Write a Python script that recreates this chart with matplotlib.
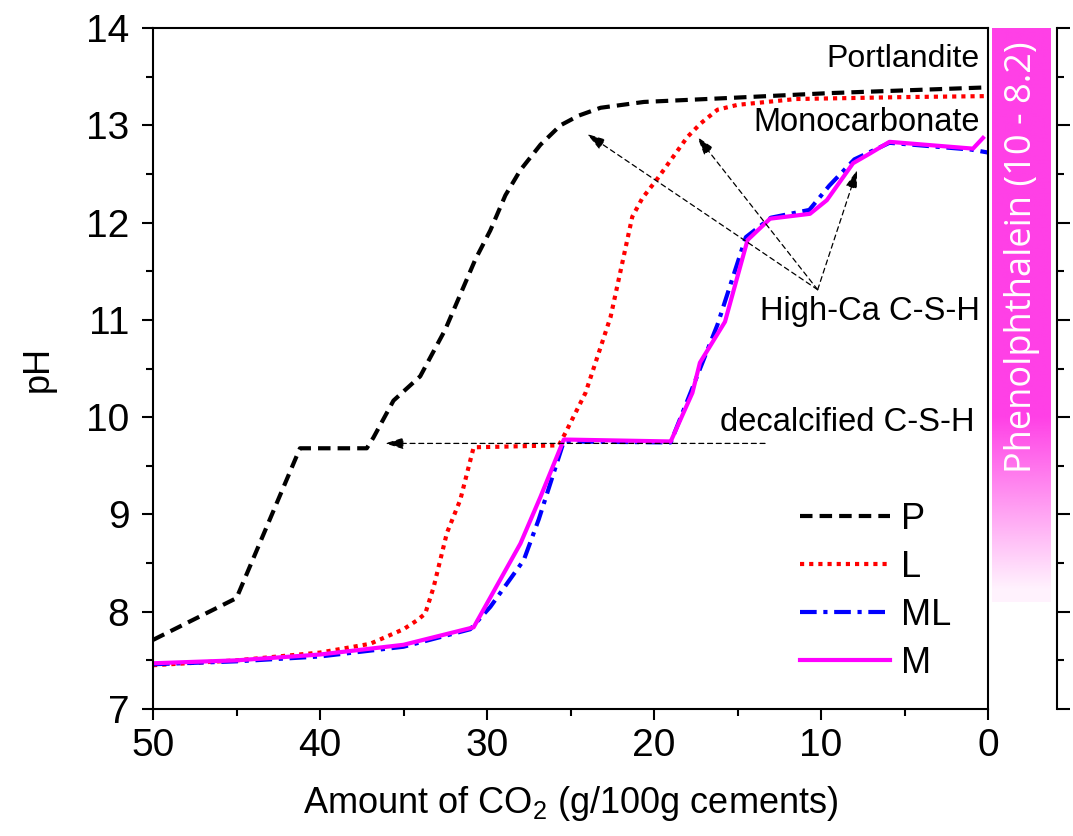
import numpy as np
import matplotlib
matplotlib.use("Agg")
import matplotlib.pyplot as plt
from matplotlib.ticker import MultipleLocator, NullFormatter
from matplotlib.colors import to_rgb

plt.rcParams["font.family"] = ["Liberation Sans", "DejaVu Sans"]
plt.rcParams["mathtext.fontset"] = "custom"
plt.rcParams["mathtext.rm"] = "Liberation Sans"

# pH of the pore solution vs. amount of CO2 bound (g / 100 g cement)
p_co2 = [50, 45, 41.2, 37.2, 36.8, 35.6, 34, 32.5, 30.7, 29.8, 28.9, 28, 26.8,
         25.6, 24.5, 23.2, 20.6, 15.6, 9.6, 0]
p_ph = [7.71, 8.14, 9.68, 9.68, 9.79, 10.17, 10.42, 10.9, 11.62, 11.92, 12.28,
        12.54, 12.8, 13.0, 13.1, 13.18, 13.24, 13.28, 13.33, 13.39]

l_co2 = [50, 45, 40, 37, 35, 34.2, 33.7, 33.2, 32.4, 31.6, 30.8, 25.7, 25.3,
         24.1, 22.6, 21.3, 20.7, 19.8, 18.0, 17.2, 16.2, 15.0, 11.5, 5, 0]
l_ph = [7.45, 7.50, 7.58, 7.67, 7.82, 7.91, 7.98, 8.25, 8.81, 9.15, 9.69, 9.71,
        9.84, 10.25, 11.03, 12.06, 12.25, 12.45, 12.88, 13.02, 13.16, 13.21,
        13.27, 13.29, 13.30]

ml_co2 = [50, 45, 40, 35, 31, 29.8, 27.8, 26.9, 25.4, 19, 17.7, 16.2, 14.5,
          13.0, 10.7, 9.5, 8.0, 5.9, 1, 0]
ml_ph = [7.46, 7.49, 7.54, 7.64, 7.82, 8.05, 8.53, 8.95, 9.75, 9.74, 10.3,
         10.95, 11.85, 12.05, 12.13, 12.38, 12.65, 12.82, 12.75, 12.72]

m_co2 = [50, 45, 40, 35, 30.8, 28.0, 26.8, 25.4, 19.0, 17.7, 17.25, 15.75,
         14.4, 13.05, 10.66, 9.65, 8.08, 7.07, 5.9, 0.9, 0.3]
m_ph = [7.47, 7.50, 7.56, 7.66, 7.84, 8.70, 9.18, 9.77, 9.75, 10.25, 10.56,
        10.98, 11.82, 12.04, 12.09, 12.23, 12.61, 12.71, 12.83, 12.76, 12.87]

series_labels = ["P", "L", "ML", "M"]

# phenolphthalein colour change interval
phenol_low, phenol_high = 8.1, 10.0
phenol_label = "Phenolphthalein (10 - 8.2)"

W, H = 1073, 836
fig = plt.figure(figsize=(W / 100, H / 100), dpi=100)

def fx(px):
    return px / W

def fy(py):
    return 1 - py / H

ax = fig.add_axes([fx(153), fy(709), fx(988) - fx(153), fy(28) - fy(709)])

ax.plot(p_co2, p_ph, color="black", lw=3, ls=(0, (3, 1.7)), label=series_labels[0])
ax.plot(l_co2, l_ph, color="red", lw=3, ls=(0, (1, 1.2)), label=series_labels[1])
ax.plot(ml_co2, ml_ph, color="blue", lw=3, ls=(0, (4, 1.6, 1, 1.6)), label=series_labels[2])
ax.plot(m_co2, m_ph, color="magenta", lw=3, label=series_labels[3])

ax.set_xlim(50, 0)
ax.set_ylim(7, 14)
ax.xaxis.set_major_locator(MultipleLocator(10))
ax.xaxis.set_minor_locator(MultipleLocator(5))
ax.yaxis.set_major_locator(MultipleLocator(1))
ax.yaxis.set_minor_locator(MultipleLocator(0.5))
ax.tick_params(which="major", direction="out", length=8, width=1.5,
               labelsize=28, top=False, right=False)
ax.tick_params(axis="x", which="major", pad=6)
ax.tick_params(axis="y", which="major", pad=9)
ax.tick_params(which="minor", direction="out", length=5, width=1.5,
               top=False, right=False)
for s in ax.spines.values():
    s.set_linewidth(1.5)

ax.set_xlabel("Amount of CO$_\\mathregular{2}$ (g/100g cements)", fontsize=26, labelpad=14)
ax.set_ylabel("pH", fontsize=26, labelpad=22)

# mineral annotations
ax.text(0.99, 13.60, "Portlandite", transform=ax.get_yaxis_transform(),
        ha="right", va="baseline", fontsize=23)
ax.text(0.99, 12.94, "Monocarbonate", transform=ax.get_yaxis_transform(),
        ha="right", va="baseline", fontsize=23.5)
ax.text(0.99, 11.0, "High-Ca C-S-H", transform=ax.get_yaxis_transform(),
        ha="right", va="baseline", fontsize=23.5)
ax.text(0.984, 9.86, "decalcified C-S-H", transform=ax.get_yaxis_transform(),
        ha="right", va="baseline", fontsize=23.5)

arrow_kw = dict(arrowstyle="-|>,head_length=0.8,head_width=0.25", lw=0.9,
                ls=(0, (4, 3)), color="black", shrinkA=0, shrinkB=0,
                mutation_scale=14)
origin = (10.2, 11.31)
for tip in [(24.0, 12.91), (17.4, 12.88), (7.84, 12.54)]:
    ax.annotate("", xy=tip, xytext=origin, arrowprops=arrow_kw)
ax.annotate("", xy=(36.1, 9.73), xytext=(13.35, 9.73), arrowprops=arrow_kw)

ax.legend(loc="upper left", bbox_to_anchor=((800 - 153) / 835, (709 - 502) / 681),
          frameon=False, fontsize=26, handlelength=2.5, handletextpad=0.3,
          labelspacing=0.36, borderpad=0, borderaxespad=0)

# phenolphthalein indicator bar with its own pH scale
bx = fig.add_axes([fx(992), fy(709), fx(1057) - fx(992), fy(28) - fy(709)])
bx.set_xlim(0, 1)
bx.set_ylim(7, 14)
levels = np.linspace(phenol_low, 14, 600)
alpha = np.clip((levels - phenol_low) / (phenol_high - phenol_low), 0.07, 1.0)
rgba = np.zeros((len(levels), 1, 4))
rgba[:, 0, :3] = to_rgb("#FF40E6")
rgba[:, 0, 3] = alpha
bx.imshow(rgba, origin="lower", aspect="auto",
          extent=[0, 59 / 65, phenol_low, 14], interpolation="bilinear")
bx.text(29.5 / 65, 11.64, phenol_label, rotation=90, ha="center", va="center",
        color="white", fontsize=26, family=["Open Sans", "DejaVu Sans"])
for side in ["left", "top", "bottom"]:
    bx.spines[side].set_visible(False)
bx.spines["right"].set_linewidth(1.5)
bx.xaxis.set_visible(False)
bx.yaxis.tick_right()
bx.yaxis.set_major_locator(MultipleLocator(1))
bx.yaxis.set_minor_locator(MultipleLocator(0.5))
bx.yaxis.set_major_formatter(NullFormatter())
bx.tick_params(which="major", direction="out", length=9.5, width=1.5)
bx.tick_params(which="minor", direction="out", length=5, width=1.5)

fig.savefig("out.png", dpi=100)
